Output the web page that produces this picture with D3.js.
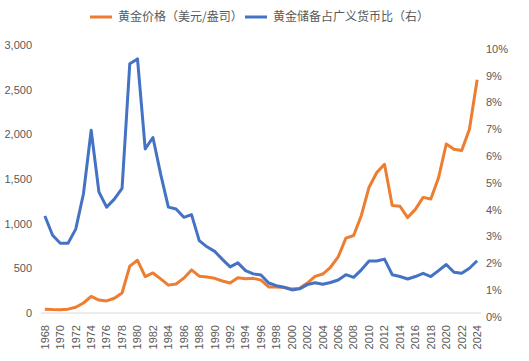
<!DOCTYPE html>
<html>
<head>
<meta charset="utf-8">
<script src="https://cdn.jsdelivr.net/npm/d3@7"></script>
<style>
  body { margin: 0; background: #fff; }
  text { font-family: "Liberation Sans", Arial, sans-serif; fill: #595959; }
  .legend text { font-family: "Noto Sans CJK SC", sans-serif; }
</style>
</head>
<body>
<div class="chart"></div>
<script>
const W = 529, H = 361;

// years on the category axis
const years = d3.range(1968, 2025);

// gold price, USD/oz (left axis)
const goldPrice = [
  41, 38, 37, 43, 64, 112, 185, 145, 135, 165, 224, 525, 590, 408, 448, 382,
  312, 325, 390, 482, 412, 402, 388, 358, 336, 395, 384, 388, 368, 292,
  290, 286, 268, 277, 335, 410, 436, 512, 628, 838, 868, 1092, 1408, 1572,
  1665, 1204, 1195, 1068, 1160, 1294, 1276, 1514, 1892, 1834, 1818, 2058, 2610
];

// gold reserves as share of broad money, % (right axis)
const goldShare = [
  3.62, 2.9, 2.6, 2.6, 3.13, 4.45, 6.82, 4.52, 3.95, 4.25, 4.65, 9.3, 9.48,
  6.12, 6.55, 5.18, 3.95, 3.88, 3.57, 3.67, 2.7, 2.47, 2.3, 2.0, 1.72, 1.87,
  1.58, 1.46, 1.42, 1.12, 1.02, 0.96, 0.86, 0.9, 1.06, 1.13, 1.07, 1.14,
  1.23, 1.43, 1.33, 1.61, 1.94, 1.94, 2.01, 1.43, 1.36, 1.27, 1.36, 1.48,
  1.36, 1.58, 1.81, 1.52, 1.48, 1.67, 1.95
];

const leftTicks = [0, 500, 1000, 1500, 2000, 2500, 3000];
const rightTicks = [0, 1, 2, 3, 4, 5, 6, 7, 8, 9, 10];
const xTickYears = years.filter(y => (y - 1968) % 2 === 0);

const seriesNames = ["黄金价格（美元/盎司）", "黄金储备占广义货币比（右）"];
const colors = ["#ED7D31", "#4472C4"];

const margin = { left: 41, right: 48, top: 45, bottom: 48 };

const svg = d3.select(".chart").append("svg")
  .attr("width", W).attr("height", H);

const x = d3.scaleBand()
  .domain(years)
  .range([margin.left, W - margin.right]);

const yL = d3.scaleLinear().domain([0, 3000]).range([H - margin.bottom, margin.top]);
const yR = d3.scaleLinear().domain([0, 10]).range([H - margin.bottom, margin.top]);

const cx = d => x(d) + x.bandwidth() / 2;

// baseline
svg.append("line")
  .attr("x1", margin.left).attr("x2", W - margin.right)
  .attr("y1", yL(0)).attr("y2", yL(0))
  .attr("stroke", "#d9d9d9").attr("stroke-width", 1);

// left axis labels
svg.append("g").attr("class", "y-left")
  .selectAll("text").data(leftTicks).join("text")
  .attr("x", 32).attr("y", d => yL(d))
  .attr("dy", "0.35em")
  .attr("text-anchor", "end")
  .attr("font-size", 11)
  .text(d => d3.format(",")(d));

// right axis labels
svg.append("g").attr("class", "y-right")
  .selectAll("text").data(rightTicks).join("text")
  .attr("x", 486).attr("y", d => yR(d) + 4)
  .attr("dy", "0.35em")
  .attr("text-anchor", "start")
  .attr("font-size", 11)
  .text(d => d + "%");

// x axis labels, rotated
svg.append("g").attr("class", "x-axis")
  .selectAll("text").data(xTickYears).join("text")
  .attr("transform", d => `translate(${cx(d)},${yL(0) + 12}) rotate(-90)`)
  .attr("dy", "0.35em")
  .attr("text-anchor", "end")
  .attr("font-size", 11)
  .text(d => d);

// lines
const goldLine = d3.line()
  .x((d, i) => cx(years[i]))
  .y(d => yL(d));
const shareLine = d3.line()
  .x((d, i) => cx(years[i]))
  .y(d => yR(d));

svg.append("path")
  .datum(goldPrice)
  .attr("fill", "none")
  .attr("stroke", colors[0])
  .attr("stroke-width", 3)
  .attr("stroke-linejoin", "round")
  .attr("d", goldLine);

svg.append("path")
  .datum(goldShare)
  .attr("fill", "none")
  .attr("stroke", colors[1])
  .attr("stroke-width", 3)
  .attr("stroke-linejoin", "round")
  .attr("d", shareLine);

// legend
const legend = svg.append("g").attr("class", "legend");
const legendX = [90, 245];
seriesNames.forEach((name, i) => {
  const g = legend.append("g").attr("transform", `translate(${legendX[i]},17)`);
  g.append("line")
    .attr("x1", 0).attr("x2", 22)
    .attr("stroke", colors[i]).attr("stroke-width", 3);
  g.append("text")
    .attr("x", 28).attr("dy", "0.35em")
    .attr("font-size", 12)
    .text(name);
});
</script>
</body>
</html>
